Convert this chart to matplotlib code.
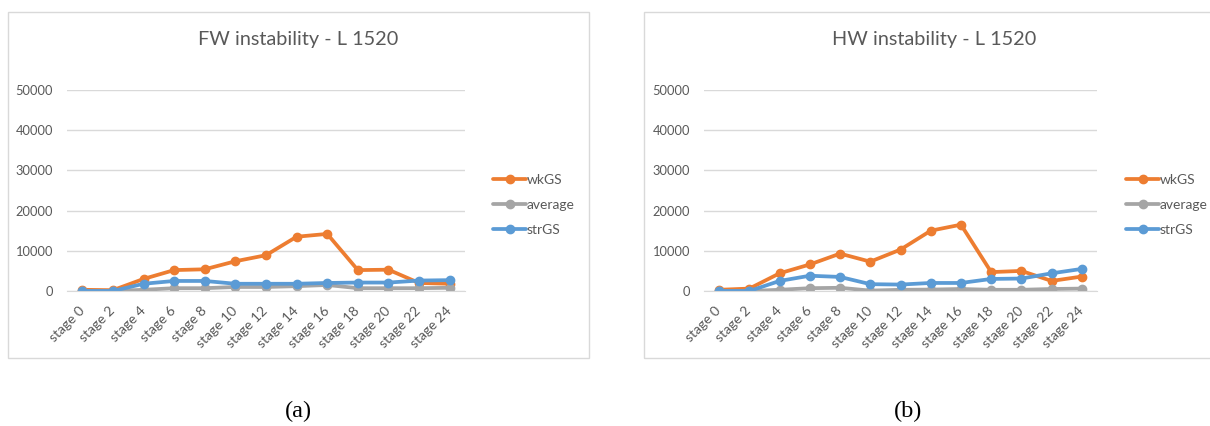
import matplotlib
matplotlib.use("Agg")
import matplotlib.pyplot as plt
from matplotlib.patches import Rectangle

W, H = 1210, 426

stages = ["stage 0", "stage 2", "stage 4", "stage 6", "stage 8", "stage 10", "stage 12",
          "stage 14", "stage 16", "stage 18", "stage 20", "stage 22", "stage 24"]
yticks = [0, 10000, 20000, 30000, 40000, 50000]

# FW instability
fw_wkGS = [300, 200, 3000, 5200, 5400, 7400, 8900, 13500, 14200, 5200, 5300, 2000, 1800]
fw_average = [0, 0, 300, 700, 700, 1000, 1000, 1200, 1500, 700, 700, 700, 800]
fw_strGS = [0, 0, 1800, 2500, 2500, 1800, 1800, 1800, 2000, 2100, 2100, 2600, 2700]

# HW instability
hw_wkGS = [300, 600, 4400, 6600, 9300, 7300, 10300, 15000, 16500, 4700, 5000, 2500, 3600]
hw_average = [0, 0, 300, 700, 800, 100, 300, 350, 500, 300, 300, 500, 600]
hw_strGS = [0, 0, 2500, 3800, 3500, 1700, 1600, 2000, 2000, 3000, 3100, 4400, 5500]

ORANGE = "#ED7D31"
GRAY = "#A5A5A5"
BLUE = "#5B9BD5"
TXT = "#595959"
FONT = "Lato"

fig = plt.figure(figsize=(W / 100, H / 100), dpi=100)
fig.patch.set_facecolor("white")


def px_rect(x0, y0, x1, y1):
    # pixel box (top-left origin) -> figure fraction
    return [x0 / W, 1 - y1 / H, (x1 - x0) / W, (y1 - y0) / H]


def panel(frame, axbox, title, tx, legx, caption, capx, wk, avg, strg):
    fx0, fy0, fx1, fy1 = frame
    fig.patches.append(Rectangle((fx0 / W, 1 - fy1 / H), (fx1 - fx0) / W, (fy1 - fy0) / H,
                                 transform=fig.transFigure, fill=False,
                                 edgecolor="#D9D9D9", linewidth=1.0))
    ax = fig.add_axes(px_rect(*axbox))
    x = list(range(len(stages)))
    for vals, col, name in [(wk, ORANGE, "wkGS"), (avg, GRAY, "average"), (strg, BLUE, "strGS")]:
        ax.plot(x, vals, color=col, lw=2.7, marker="o", ms=6, label=name,
                solid_capstyle="round", solid_joinstyle="round")
    ax.set_xlim(-0.5, len(stages) - 0.5)
    ax.set_ylim(0, 50000)
    ax.set_yticks(yticks)
    ax.set_yticklabels([str(v) for v in yticks], fontsize=9.3, color=TXT, family=FONT)
    ax.set_xticks(x)
    ax.set_xticklabels(stages, rotation=45, ha="right", va="center",
                       rotation_mode="anchor", fontsize=10, color=TXT, family=FONT)
    ax.tick_params(axis="both", length=0)
    ax.tick_params(axis="x", pad=13)
    ax.tick_params(axis="y", pad=10)
    ax.grid(axis="y", color="#D9D9D9", lw=1.0)
    ax.set_axisbelow(True)
    for s in ["top", "right", "left"]:
        ax.spines[s].set_visible(False)
    ax.spines["bottom"].set_color("#D9D9D9")
    ax.patch.set_alpha(0)

    fig.text(tx / W, 1 - 40 / H, title, ha="center", va="center",
             fontsize=14.3, color=TXT, family=FONT)
    h, l = ax.get_legend_handles_labels()
    fig.legend(h, l, loc="upper left", bbox_to_anchor=(legx / W, 1 - 167 / H),
               frameon=False, borderpad=0, handlelength=2.4, handletextpad=0.05,
               labelspacing=0.95, numpoints=1, prop={"family": FONT, "size": 10},
               labelcolor=TXT)
    fig.text(capx / W, 1 - 411 / H, caption, ha="center", va="center",
             fontsize=17.5, color="black", family="Liberation Serif")


panel((8, 12, 589, 358), (67, 90, 465, 291), "FW instability - L 1520", 298, 486,
      "(a)", 298, fw_wkGS, fw_average, fw_strGS)
panel((644, 12, 1215, 358), (704, 90, 1097, 291), "HW instability - L 1520", 934, 1119,
      "(b)", 908, hw_wkGS, hw_average, hw_strGS)

fig.savefig("out.png", dpi=100)
